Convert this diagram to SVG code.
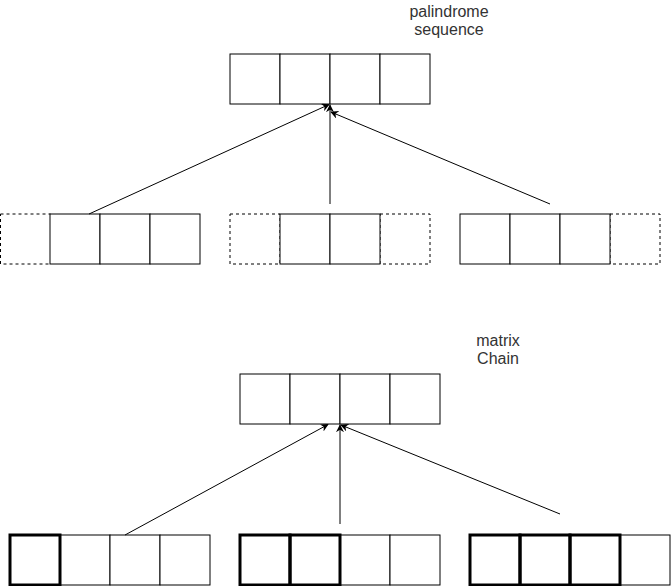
<svg xmlns="http://www.w3.org/2000/svg" width="671" height="586" viewBox="0 0 671 586">
<style>
.c{fill:#fff;stroke:#000;stroke-width:1}
.d{fill:#fff;stroke:#000;stroke-width:1;stroke-dasharray:3 3}
.t{fill:none;stroke:#000;stroke-width:3}
.a{fill:none;stroke:#000;stroke-width:1;marker-end:url(#ah)}
.l{font-family:"Liberation Sans",Arial,sans-serif;font-size:16px;fill:#333;text-anchor:middle}
</style>
<defs>
<marker id="ah" viewBox="0 0 10 10" refX="9" refY="5" markerWidth="8" markerHeight="8" markerUnits="userSpaceOnUse" orient="auto">
<path d="M0,0 L10,5 L0,10 L3,5 Z" fill="#000"/>
</marker>
</defs>
<rect width="671" height="586" fill="#fff"/>
<g id="label-palindrome"><text class="l" x="449" y="17">palindrome</text><text class="l" x="449" y="35">sequence</text></g>
<g id="top-result">
<rect class="c" x="230" y="54" width="50" height="50"/><rect class="c" x="280" y="54" width="50" height="50"/><rect class="c" x="330" y="54" width="50" height="50"/><rect class="c" x="380" y="54" width="50" height="50"/>
</g>
<g id="top-sub1">
<rect class="d" x="0.5" y="214" width="50" height="50"/><rect class="c" x="50" y="214" width="50" height="50"/><rect class="c" x="100" y="214" width="50" height="50"/><rect class="c" x="150" y="214" width="50" height="50"/>
</g>
<g id="top-sub2">
<rect class="d" x="230" y="214" width="50" height="50"/><rect class="d" x="380" y="214" width="50" height="50"/><rect class="c" x="280" y="214" width="50" height="50"/><rect class="c" x="330" y="214" width="50" height="50"/>
</g>
<g id="top-sub3">
<rect class="d" x="610" y="214" width="50" height="50"/><rect class="c" x="460" y="214" width="50" height="50"/><rect class="c" x="510" y="214" width="50" height="50"/><rect class="c" x="560" y="214" width="50" height="50"/>
</g>
<g id="label-matrix"><text class="l" x="498" y="346">matrix</text><text class="l" x="498" y="364">Chain</text></g>
<g id="bottom-result">
<rect class="c" x="240" y="374" width="50" height="50"/><rect class="c" x="290" y="374" width="50" height="50"/><rect class="c" x="340" y="374" width="50" height="50"/><rect class="c" x="390" y="374" width="50" height="50"/>
</g>
<g id="bottom-sub1">
<rect class="c" x="60" y="535" width="50" height="50"/><rect class="c" x="110" y="535" width="50" height="50"/><rect class="c" x="160" y="535" width="50" height="50"/><rect class="t" x="10" y="535" width="50" height="50"/>
</g>
<g id="bottom-sub2">
<rect class="c" x="340" y="535" width="50" height="50"/><rect class="c" x="390" y="535" width="50" height="50"/><rect class="t" x="240" y="535" width="50" height="50"/><rect class="t" x="290" y="535" width="50" height="50"/>
</g>
<g id="bottom-sub3">
<rect class="c" x="620" y="535" width="50" height="50"/><rect class="t" x="470" y="535" width="50" height="50"/><rect class="t" x="520" y="535" width="50" height="50"/><rect class="t" x="570" y="535" width="50" height="50"/>
</g>
<g id="connectors">
<line class="a" x1="89" y1="214" x2="329" y2="104.5"/>
<line class="a" x1="330" y1="204" x2="330" y2="105"/>
<line class="a" x1="550" y1="204" x2="331" y2="112"/>
<line class="a" x1="125" y1="535" x2="328" y2="424.5"/>
<line class="a" x1="340" y1="524" x2="340" y2="425"/>
<line class="a" x1="560" y1="514" x2="341" y2="425"/>
</g>
</svg>
